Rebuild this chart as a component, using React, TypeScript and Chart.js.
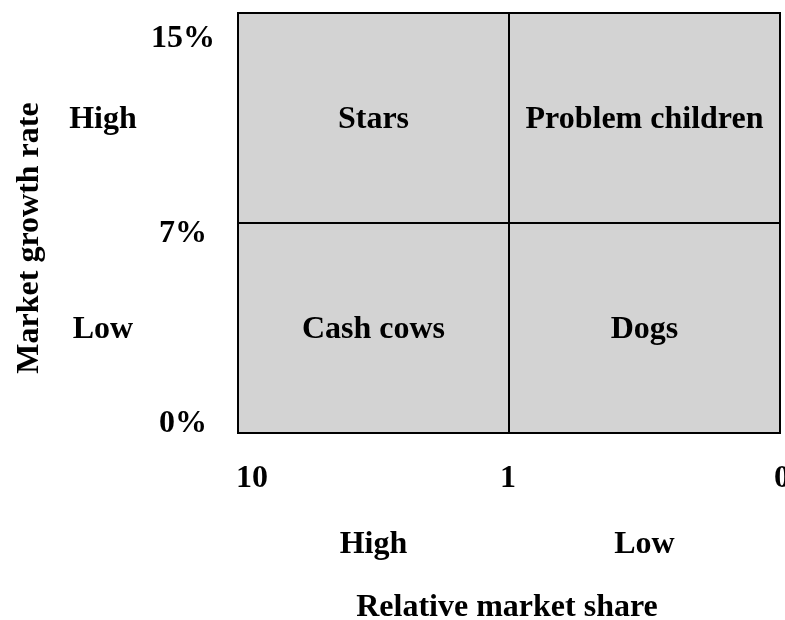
import React, { useEffect, useRef } from "react";
import { Chart, registerables } from "chart.js";

Chart.register(...registerables);

// Quadrants (x range in share-axis units, y range in growth-axis units)
const quadrantNames = ["Stars", "Problem children", "Cash cows", "Dogs"];
const quadrantX0 = [0, 1, 0, 1];
const quadrantX1 = [1, 2, 1, 2];
const quadrantY0 = [1, 1, 0, 0];
const quadrantY1 = [2, 2, 1, 1];

// Axis tick labels
const xTickValues = [0, 1, 2];
const xTickLabels = ["10", "1", "0"];
const yTickValues = [0, 1, 2];
const yTickLabels = ["0%", "7%", "15%"];

// Band labels
const xBandValues = [0.5, 1.5];
const xBandLabels = ["High", "Low"];
const yBandValues = [1.5, 0.5];
const yBandLabels = ["High", "Low"];

const xTitle = "Relative market share";
const yTitle = "Market growth rate";

const FONT = "bold 32px 'Liberation Serif', 'Times New Roman', serif";

const bcgPlugin = {
  id: "bcg",
  afterDraw(chart: any) {
    const { ctx } = chart;
    const xs = chart.scales.x;
    const ys = chart.scales.y;
    ctx.save();
    ctx.fillStyle = "#d3d3d3";
    for (let i = 0; i < quadrantNames.length; i++) {
      const l = xs.getPixelForValue(quadrantX0[i]);
      const r = xs.getPixelForValue(quadrantX1[i]);
      const t = ys.getPixelForValue(quadrantY1[i]);
      const b = ys.getPixelForValue(quadrantY0[i]);
      ctx.fillRect(l, t, r - l, b - t);
    }
    ctx.strokeStyle = "#000";
    ctx.lineWidth = 2;
    for (let i = 0; i < quadrantNames.length; i++) {
      const l = xs.getPixelForValue(quadrantX0[i]);
      const r = xs.getPixelForValue(quadrantX1[i]);
      const t = ys.getPixelForValue(quadrantY1[i]);
      const b = ys.getPixelForValue(quadrantY0[i]);
      ctx.strokeRect(l, t, r - l, b - t);
    }
    ctx.fillStyle = "#000";
    ctx.font = FONT;
    ctx.textAlign = "center";
    ctx.textBaseline = "middle";
    for (let i = 0; i < quadrantNames.length; i++) {
      const cx = xs.getPixelForValue((quadrantX0[i] + quadrantX1[i]) / 2);
      const cy = ys.getPixelForValue((quadrantY0[i] + quadrantY1[i]) / 2);
      ctx.fillText(quadrantNames[i], cx, cy + 2);
    }
    const yOffsets = [-9, 11, 26];
    for (let i = 0; i < yTickValues.length; i++) {
      ctx.fillText(yTickLabels[i], 183, ys.getPixelForValue(yTickValues[i]) + yOffsets[i]);
    }
    for (let i = 0; i < yBandValues.length; i++) {
      ctx.fillText(yBandLabels[i], 103, ys.getPixelForValue(yBandValues[i]) + 2);
    }
    const bottom = ys.getPixelForValue(0);
    const xOffsets = [14, -1, 2];
    for (let i = 0; i < xTickValues.length; i++) {
      ctx.fillText(xTickLabels[i], xs.getPixelForValue(xTickValues[i]) + xOffsets[i], bottom + 46);
    }
    for (let i = 0; i < xBandValues.length; i++) {
      ctx.fillText(xBandLabels[i], xs.getPixelForValue(xBandValues[i]), bottom + 112);
    }
    ctx.fillText(xTitle, 507, bottom + 175);
    ctx.save();
    ctx.translate(30, 238);
    ctx.rotate(-Math.PI / 2);
    ctx.fillText(yTitle, 0, 0);
    ctx.restore();
    ctx.restore();
  },
};

export default function App() {
  const ref = useRef<HTMLCanvasElement>(null);
  useEffect(() => {
    document.body.style.margin = "0";
    const chart = new Chart(ref.current!, {
      type: "scatter",
      data: { datasets: [{ data: [], pointRadius: 0 }] },
      options: {
        animation: false,
        responsive: true,
        maintainAspectRatio: false,
        layout: { padding: { left: 238, top: 13, right: 5, bottom: 187 } },
        plugins: { legend: { display: false }, tooltip: { enabled: false } },
        scales: {
          x: { type: "linear", min: 0, max: 2, display: false },
          y: { type: "linear", min: 0, max: 2, display: false },
        },
      },
      plugins: [bcgPlugin],
    });
    return () => chart.destroy();
  }, []);
  return (
    <div style={{ width: 785, height: 620, position: "relative" }}>
      <canvas ref={ref} />
    </div>
  );
}
